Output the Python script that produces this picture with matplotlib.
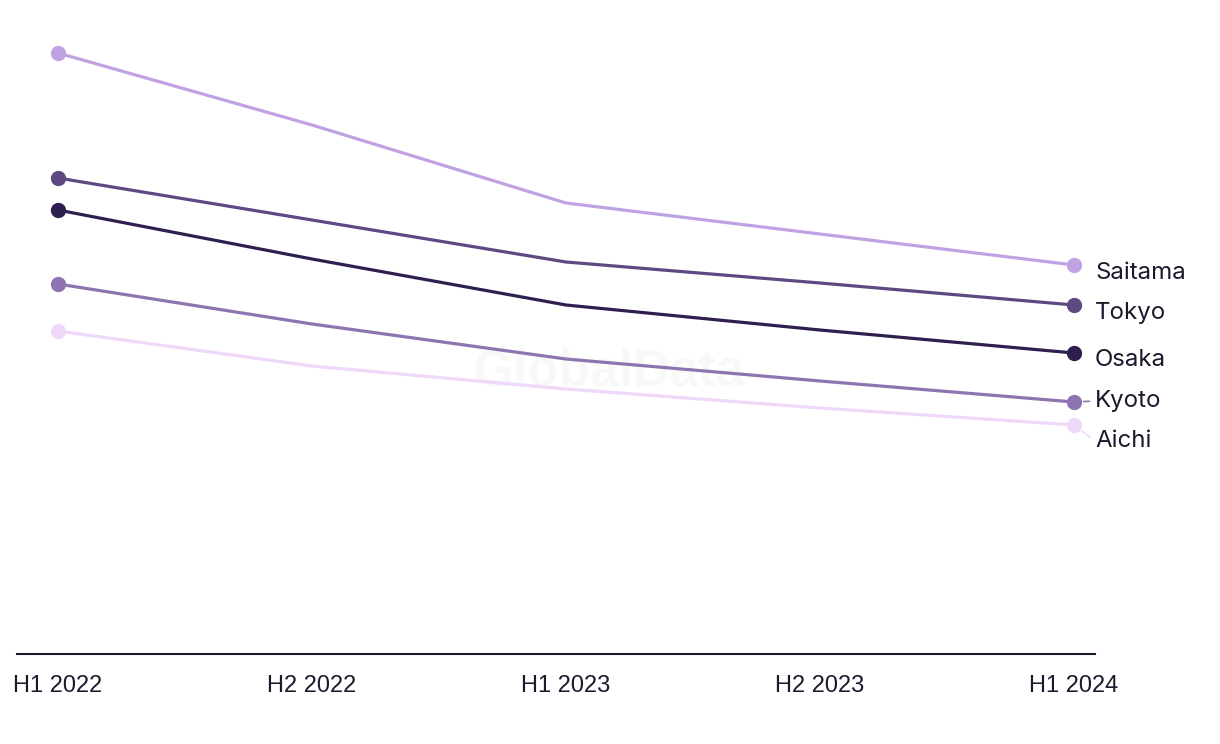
import matplotlib
matplotlib.use("Agg")
import matplotlib.pyplot as plt

periods = ["H1 2022", "H2 2022", "H1 2023", "H2 2023", "H1 2024"]

saitama = [60.1, 52.9, 45.1, 42.0, 38.9]
tokyo = [47.6, 43.4, 39.2, 37.1, 34.9]
osaka = [44.4, 39.5, 34.9, 32.4, 30.1]
kyoto = [37.0, 33.0, 29.5, 27.3, 25.2]
aichi = [32.3, 28.8, 26.5, 24.6, 22.9]

series = [
    ("Saitama", saitama, "#c0a2e2", -8, False),
    ("Tokyo", tokyo, "#5e4a82", -8, False),
    ("Osaka", osaka, "#2e1f4f", -7, False),
    ("Kyoto", kyoto, "#8e74b0", 1, True),
    ("Aichi", aichi, "#f0d8fa", -16, True),
]

text_color = "#1a1a2e"
plt.rcParams['font.family'] = ['Liberation Sans', 'DejaVu Sans']

fig = plt.figure(figsize=(12.2, 7.44), dpi=100)
ax = fig.add_axes([17 / 1220, 1 - 654 / 744, (1095 - 17) / 1220, (654 - 20) / 744])

x = list(range(len(periods)))
for name, vals, color, dy, leader in series:
    ax.plot(x, vals, color=color, lw=2.3, solid_capstyle="round", zorder=3)
    ax.plot([x[0], x[-1]], [vals[0], vals[-1]], "o", color=color, ms=10, zorder=4)
    arrow = None
    if leader:
        arrow = dict(arrowstyle="-", color=color, lw=1.2,
                     shrinkA=2, shrinkB=7, relpos=(0, 0.5))
    ax.annotate(name, xy=(x[-1], vals[-1]), xytext=(21, dy),
                textcoords="offset pixels", va="center", ha="left",
                fontsize=17.3, color=text_color, family=["Inter", "DejaVu Sans"],
                arrowprops=arrow)

ax.text(0.55, 0.445, "GlobalData", transform=ax.transAxes, ha="center", va="center",
        fontsize=37, fontweight="bold", color="#f8f8f8", zorder=1)

ax.set_xlim(-41 / 254, 4 + 21 / 254)
ax.set_ylim(0, 63.4)
ax.set_xticks(x)
ax.set_xticklabels(periods, fontsize=17, color=text_color)
ax.tick_params(axis="x", length=0, pad=15)
ax.set_yticks([])
for side in ["top", "right", "left"]:
    ax.spines[side].set_visible(False)
ax.spines["bottom"].set_color(text_color)
ax.spines["bottom"].set_linewidth(1.5)

fig.savefig("out.png", dpi=100)
